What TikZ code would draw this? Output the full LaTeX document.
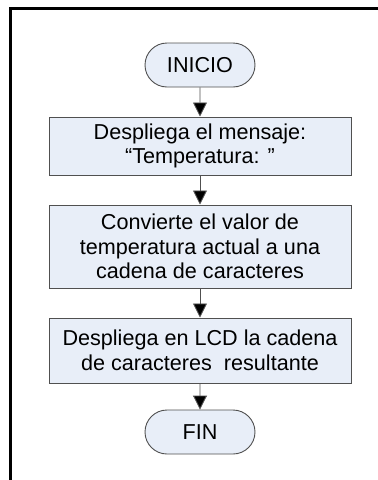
\documentclass[tikz,border=0pt]{standalone}
\usepackage{fontspec}
\setmainfont{Liberation Sans}
\usepackage{xcolor}
\usetikzlibrary{shapes.misc, arrows.meta, positioning}

\definecolor{boxfill}{HTML}{E8EEF8}
\definecolor{boxline}{HTML}{505050}

\tikzset{
  terminal/.style={rounded rectangle, draw=boxline, fill=boxfill, line width=0.9pt,
    minimum width=110pt, minimum height=44pt, inner sep=0pt,
    font=\fontsize{21.6}{24.5}\selectfont},
  procbox/.style={rectangle, draw=boxline, fill=boxfill, line width=1pt,
    minimum width=302pt, inner sep=0pt, align=center,
    font=\fontsize{21.6}{24.5}\selectfont},
  flow/.style={draw=boxline, line width=0.9pt, -{Triangle[length=14pt,width=14pt,fill=black]}}
}

\begin{document}
\begin{tikzpicture}[x=1pt,y=-1pt]
\useasboundingbox (0,0) rectangle (378,480);

% frame
\draw[black, line width=3pt] (10,480) -- (10,8) -- (378,8);

% nodes
\node[terminal] (inicio) at (200,65) {INICIO};
\node[procbox, minimum height=58pt] (msg) at (200,146) {Despliega el mensaje:\\“Temperatura: ”};
\node[procbox, minimum height=83pt] (conv) at (200,246.5) {Convierte el valor de\\temperatura actual a una\\cadena de caracteres};
\node[procbox, minimum height=65pt] (lcd) at (200,350.5) {Despliega en LCD la cadena\\de caracteres\ \ resultante};
\node[terminal] (fin) at (200,432) {FIN};

% arrows
\draw[flow] (inicio) -- (msg);
\draw[flow] (msg) -- (conv);
\draw[flow] (conv) -- (lcd);
\draw[flow] (lcd) -- (fin);

\end{tikzpicture}
\end{document}
